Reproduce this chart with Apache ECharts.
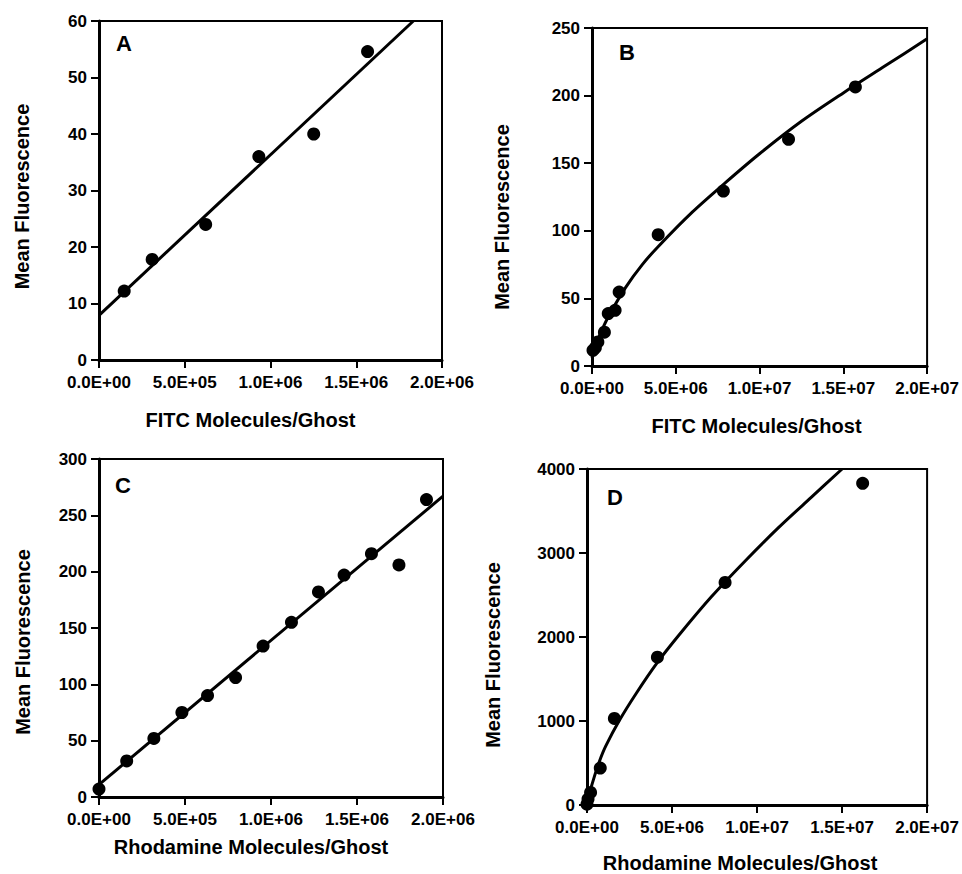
<!DOCTYPE html>
<html>
<head>
<meta charset="utf-8">
<title>Mean Fluorescence vs Molecules/Ghost</title>
<script src="https://cdn.jsdelivr.net/npm/echarts@6/dist/echarts.min.js"></script>
<style>
  html, body { margin: 0; padding: 0; background: #fff; }
  #chart { width: 962px; height: 874px; }
</style>
</head>
<body>
<div id="chart"></div>
<script>
// ---- panel A: FITC, low range ----
var aX = [1.47e5, 3.1e5, 6.22e5, 9.32e5, 1.252e6, 1.566e6];
var aY = [12.2, 17.8, 24, 36, 40, 54.6];
var aFitX = [0, 1.833e6];
var aFitY = [7.9, 60];

// ---- panel B: FITC, full range ----
var bX = [6e4, 2e5, 3.5e5, 7.4e5, 9.7e5, 1.38e6, 1.62e6, 3.95e6, 7.84e6, 1.173e7, 1.572e7];
var bY = [11.6, 13.5, 17.8, 25, 38.8, 41.2, 54.7, 97.1, 129.4, 167.7, 206.4];
var bFitX = [0, 2e5, 5e5, 1e6, 2e6, 3e6, 4e6, 6e6, 8e6, 1e7, 1.25e7, 1.5e7, 1.75e7, 2e7];
var bFitY = [6, 14, 24, 37, 58, 75, 89, 114, 136, 157, 181, 202, 222, 242];

// ---- panel C: rhodamine, low range ----
var cX = [0, 1.61e5, 3.19e5, 4.82e5, 6.31e5, 7.94e5, 9.54e5, 1.119e6, 1.276e6, 1.425e6, 1.584e6, 1.744e6, 1.904e6];
var cY = [7, 32, 52, 75, 90, 106, 134, 155, 182, 197, 216, 206, 264];
var cFitX = [0, 2e6];
var cFitY = [11, 267];

// ---- panel D: rhodamine, full range ----
var dX = [0, 6e4, 2.1e5, 7.8e5, 1.61e6, 4.14e6, 8.12e6, 1.621e7];
var dY = [10, 70, 150, 440, 1030, 1760, 2650, 3830];
var dFitX = [0, 1.5e5, 4.5e5, 7.5e5, 1.1e6, 1.9e6, 2.9e6, 4.1e6, 5.4e6, 7.3e6, 9.3e6, 1.12e7, 1.32e7, 1.5e7];
var dFitY = [0, 140, 350, 530, 700, 1005, 1330, 1685, 2020, 2475, 2905, 3290, 3665, 4000];

var yTitle = 'Mean Fluorescence';
var xTitles = ['FITC Molecules/Ghost', 'FITC Molecules/Ghost', 'Rhodamine Molecules/Ghost', 'Rhodamine Molecules/Ghost'];
var letters = ['A', 'B', 'C', 'D'];

var font = 'Liberation Sans, Arial, Helvetica, sans-serif';

function sci(v) {
  if (v === 0) return '0.0E+00';
  var e = Math.floor(Math.log10(v) + 1e-9);
  var m = v / Math.pow(10, e);
  return m.toFixed(1) + 'E+' + (e < 10 ? '0' : '') + e;
}

function pairs(xs, ys) {
  return xs.map(function(x, i) { return [x, ys[i]]; });
}

var grids = [
  { left: 99, top: 21, width: 343, height: 339 },
  { left: 592, top: 28, width: 343, height: 338 },
  { left: 99, top: 459, width: 344, height: 338 },
  { left: 587, top: 469, width: 344, height: 338 }
];
var xMax = [2e6, 2e7, 2e6, 2e7];
var yMax = [60, 250, 300, 4000];
var yStep = [10, 50, 50, 1000];
var xGap = [50, 50, 40, 48];
var xShift = [40, 6, 40, 34];
var yGap = [67, 80, 66, 84];
var yShift = [12, 40, 28, 36];

var option = {
  animation: false,
  backgroundColor: '#fff',
  grid: grids.map(function(g) {
    return Object.assign({ show: true, borderColor: '#000', borderWidth: 2, backgroundColor: 'transparent' }, g);
  }),
  xAxis: grids.map(function(g, i) {
    return {
      type: 'value', gridIndex: i, min: 0, max: xMax[i], interval: xMax[i] / 4,
      name: xTitles[i], nameLocation: 'middle', nameGap: xGap[i],
      nameTextStyle: { color: '#000', fontFamily: font, fontWeight: 'bold', fontSize: 20, padding: [0, xShift[i], 0, 0] },
      axisLine: { show: true, onZero: false, lineStyle: { color: '#000', width: 3 } },
      axisTick: { show: true, inside: false, length: 8, lineStyle: { color: '#000', width: 2 } },
      axisLabel: { color: '#000', fontFamily: font, fontWeight: 'bold', fontSize: 17, margin: 14, formatter: sci },
      splitLine: { show: false }
    };
  }),
  yAxis: grids.map(function(g, i) {
    return {
      type: 'value', gridIndex: i, min: 0, max: yMax[i], interval: yStep[i],
      name: yTitle, nameLocation: 'middle', nameGap: yGap[i],
      nameTextStyle: { color: '#000', fontFamily: font, fontWeight: 'bold', fontSize: 20, padding: [0, yShift[i], 0, 0] },
      axisLine: { show: true, onZero: false, lineStyle: { color: '#000', width: 3 } },
      axisTick: { show: true, inside: false, length: 8, lineStyle: { color: '#000', width: 2 } },
      axisLabel: { color: '#000', fontFamily: font, fontWeight: 'bold', fontSize: 17, margin: 12,
        formatter: function(v) { return String(v); } },
      splitLine: { show: false }
    };
  }),
  series: [],
  graphic: [
    { type: 'text', left: 116, top: 32, style: { text: letters[0], font: 'bold 22px ' + font, fill: '#000' } },
    { type: 'text', left: 619, top: 41, style: { text: letters[1], font: 'bold 22px ' + font, fill: '#000' } },
    { type: 'text', left: 115, top: 474, style: { text: letters[2], font: 'bold 22px ' + font, fill: '#000' } },
    { type: 'text', left: 607, top: 486, style: { text: letters[3], font: 'bold 22px ' + font, fill: '#000' } }
  ]
};

var fits = [pairs(aFitX, aFitY), pairs(bFitX, bFitY), pairs(cFitX, cFitY), pairs(dFitX, dFitY)];
var pts = [pairs(aX, aY), pairs(bX, bY), pairs(cX, cY), pairs(dX, dY)];

for (var i = 0; i < 4; i++) {
  option.series.push({
    type: 'line', xAxisIndex: i, yAxisIndex: i, data: fits[i],
    showSymbol: false, smooth: (i === 1 || i === 3) ? 0.3 : false, clip: true,
    lineStyle: { color: '#000', width: 3 }, z: 2
  });
  option.series.push({
    type: 'scatter', xAxisIndex: i, yAxisIndex: i, data: pts[i],
    symbol: 'circle', symbolSize: 13, itemStyle: { color: '#000', opacity: 1 }, clip: false, z: 3
  });
}

var chart = echarts.init(document.getElementById('chart'), null, { renderer: 'svg' });
chart.setOption(option);
window.addEventListener('resize', function() { chart.resize(); });
</script>
</body>
</html>
